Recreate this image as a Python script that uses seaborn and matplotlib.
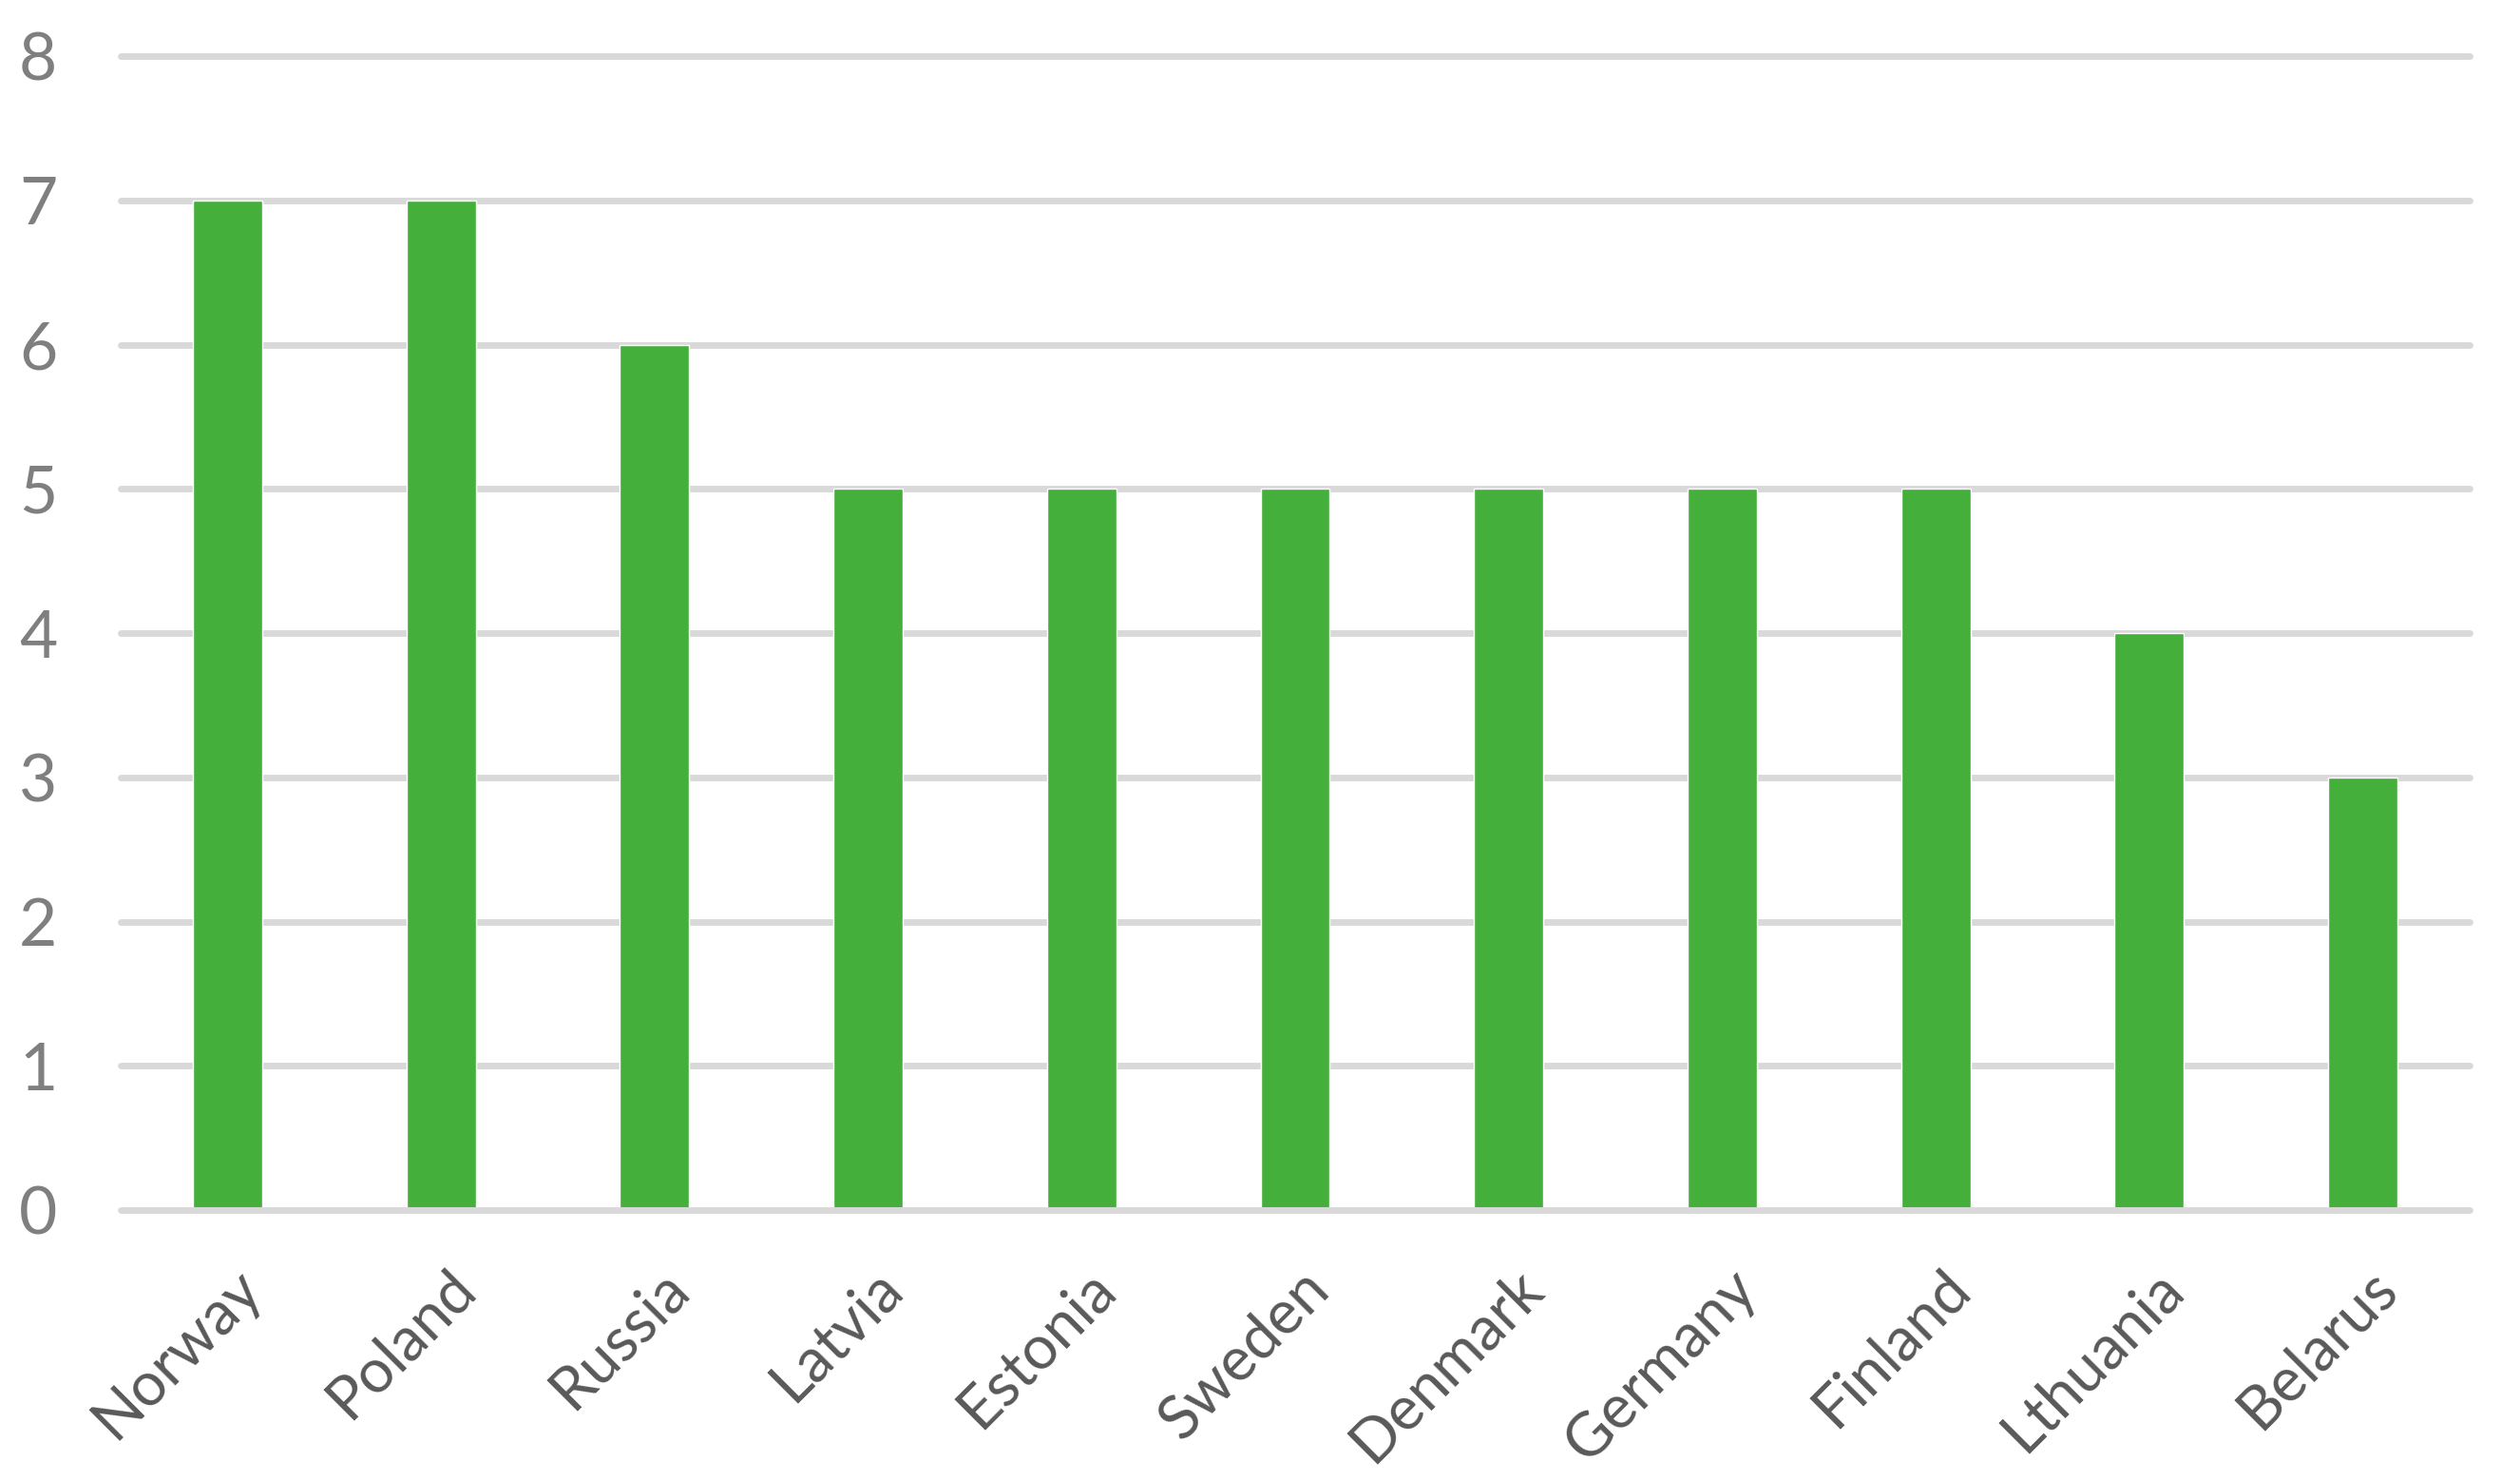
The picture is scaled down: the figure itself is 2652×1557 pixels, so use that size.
import matplotlib
matplotlib.use("Agg")
import matplotlib.pyplot as plt
import matplotlib.transforms as mtransforms
import seaborn as sns
import pandas as pd

# values
countries = ['Norway', 'Poland', 'Russia', 'Latvia', 'Estonia', 'Sweden',
             'Denmark', 'Germany', 'Finland', 'Lthuania', 'Belarus']
counts = [7, 7, 6, 5, 5, 5, 5, 5, 5, 4, 3]
y_ticks = [0, 1, 2, 3, 4, 5, 6, 7, 8]

df = pd.DataFrame({'country': countries, 'count': counts})

sns.set_style('white')
plt.rcParams['font.family'] = ['Lato', 'DejaVu Sans']

fig = plt.figure(figsize=(26.52, 15.57), dpi=100)
ax = fig.add_axes([0.0479, 0.1824, 0.9321, 0.7797])

sns.barplot(data=df, x='country', y='count', color='#44AF3B', saturation=1,
            width=0.324, ax=ax, zorder=3)

ax.set_ylim(0, 8)
ax.set_yticks(y_ticks)
ax.set_xlim(-0.5, len(countries) - 0.5)
ax.set_xlabel('')
ax.set_ylabel('')
sns.despine(ax=ax, left=True, bottom=True)

# gridlines (zero line drawn over the bars)
for v in y_ticks:
    ax.axhline(v, color='#D9D9D9', linewidth=5, zorder=1 if v else 4, clip_on=False)

ax.tick_params(axis='both', length=0)
ax.tick_params(axis='y', labelsize=50, labelcolor='#7F7F7F', pad=48)

ax.set_xticks(range(len(countries)))
ax.set_xticklabels(countries, rotation=45, ha='right', va='center',
                   rotation_mode='anchor', fontsize=46, color='#595959')
offset = mtransforms.ScaledTranslation(0.26, -0.68, fig.dpi_scale_trans)
for lab in ax.get_xticklabels():
    lab.set_transform(lab.get_transform() + offset)

fig.savefig('out.png', dpi=100, facecolor='white')
